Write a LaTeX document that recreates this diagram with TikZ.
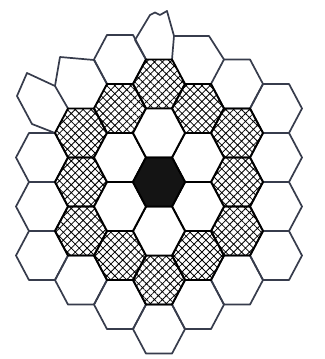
\documentclass[tikz,border=0pt]{standalone}
\usetikzlibrary{patterns.meta}
\definecolor{SketchGray}{RGB}{55,60,76}
\tikzset{
  outercell/.style={draw=SketchGray, line width=1.7pt, line join=round},
  hatchcell/.style={draw=black, line width=1.9pt, line join=round, pattern color=black,
    pattern={Hatch[angle=45, distance=5.6pt, line width=0.8pt]}},
  whitecell/.style={draw=black, line width=1.9pt, line join=round, fill=white},
  corecell/.style={draw=black, line width=1.9pt, line join=round, fill=black!92},
}
% one flat-top cell at axial position (q,r)
\newcommand{\hexcell}[3]{%
  \draw[#3, shift={({1.5*#1},{0.866*(2*#2+#1)})}]
    (1,0) -- (0.5,0.866) -- (-0.5,0.866) -- (-1,0) -- (-0.5,-0.866) -- (0.5,-0.866) -- cycle;}
\begin{document}
\begin{tikzpicture}[x=26pt, y=28.3pt]
  \fill[white] (-6.115,-6.254) rectangle (6.346,6.431);
  \useasboundingbox (-6.115,-6.254) rectangle (6.346,6.431);

  % outer ring, sketched
  \foreach \q/\r in {3/0, 3/-1, 3/-2, 3/-3, 2/-3, 1/-3, 0/-3, -1/-2, -2/-1,
                     -3/0, -3/1, -3/2, -1/3, 2/1}
    \hexcell{\q}{\r}{outercell};

  % the crooked cells at the top, traced in pixels
  \begin{scope}[x=1pt, y=-1pt, shift={(-159pt,182pt)}]
    \draw[outercell] (68,108.5) -- (55,86) -- (27,73) -- (17,96) -- (32,124) -- (55,133);
    \draw[outercell] (55,86) -- (60,57) -- (94,60) -- (107,84);
    \draw[outercell] (146,59.5) -- (135,40) -- (150,15) -- (155,12.5) -- (160,15) -- (167,11)
      -- (174,36) -- (172,59.5);
    \draw[outercell] (174,36) -- (209,36) -- (224,59.5);
  \end{scope}

  % second ring, cross-hatched
  \foreach \q/\r in {2/0, 2/-1, 2/-2, 1/-2, 0/-2, -1/-1, -2/0, -2/1, -2/2, -1/2, 0/2, 1/1}
    \hexcell{\q}{\r}{hatchcell};

  % first ring
  \foreach \q/\r in {1/0, 1/-1, 0/-1, -1/0, -1/1, 0/1}
    \hexcell{\q}{\r}{whitecell};

  % centre
  \hexcell{0}{0}{corecell};
\end{tikzpicture}
\end{document}
